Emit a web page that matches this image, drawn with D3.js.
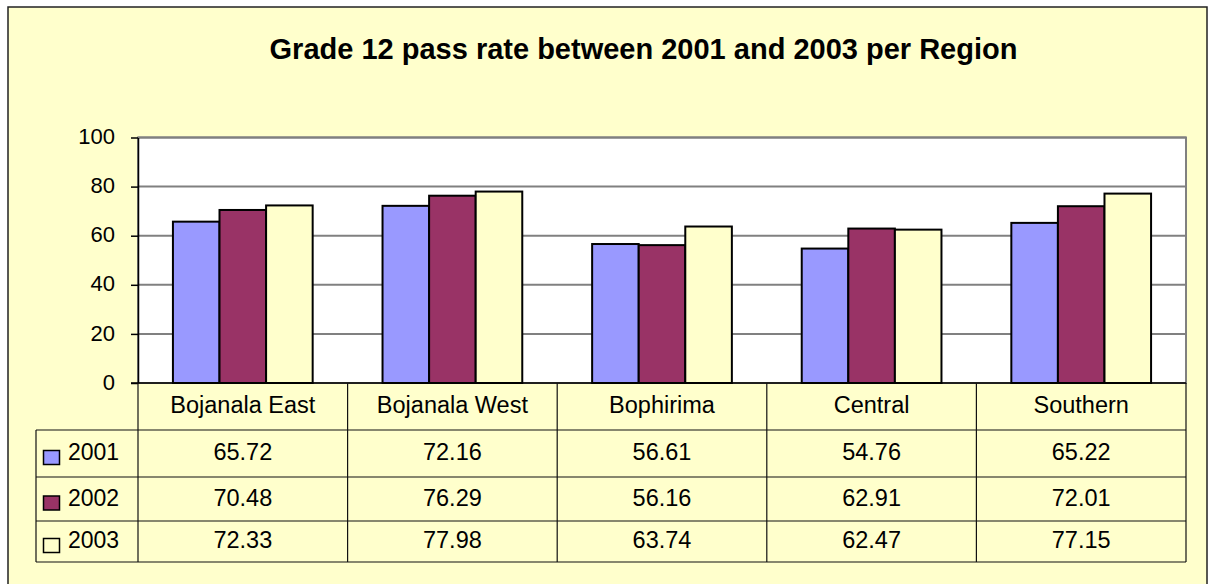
<!DOCTYPE html>
<html>
<head>
<meta charset="utf-8">
<script src="https://cdn.jsdelivr.net/npm/d3@7"></script>
<style>
  body { margin: 0; background: #fff; }
  text { font-family: Arial, "Liberation Sans", sans-serif; fill: #000; }
</style>
</head>
<body>
<svg id="canvas" width="1209" height="584"></svg>
<script>
// chart data
const regions = ["Bojanala East", "Bojanala West", "Bophirima", "Central", "Southern"];
const years = ["2001", "2002", "2003"];
const values2001 = [65.72, 72.16, 56.61, 54.76, 65.22];
const values2002 = [70.48, 76.29, 56.16, 62.91, 72.01];
const values2003 = [72.33, 77.98, 63.74, 62.47, 77.15];
const yTicks = [0, 20, 40, 60, 80, 100];
const seriesColors = ["#9999FF", "#993366", "#FFFFCC"];
const titleText = "Grade 12 pass rate between 2001 and 2003 per Region";

const series = [values2001, values2002, values2003];

const svg = d3.select("#canvas");

// plot area bounds
const plotLeft = 138, plotRight = 1186, plotTop = 137.5, plotBottom = 383;
// data table row edges
const rowEdges = [383, 430, 477, 521, 562];
const tableLeft = 36;

const x = d3.scaleBand().domain(regions).range([plotLeft, plotRight]).padding(0);
const xInner = d3.scaleBand().domain(years).range([0, x.bandwidth()])
    .paddingInner(0).paddingOuter(0.75);
const y = d3.scaleLinear().domain([0, 100]).range([plotBottom, plotTop]);
const color = d3.scaleOrdinal().domain(years).range(seriesColors);

//Outer chart frame
svg.append("rect")
    .attr("x", 8).attr("y", 7)
    .attr("width", 1199).attr("height", 600)
    .attr("fill", "#FFFFCC")
    .attr("stroke", "#222")
    .attr("stroke-width", 1.5);

//Title
svg.append("text")
    .attr("x", 643.5).attr("y", 58.5)
    .attr("text-anchor", "middle")
    .style("font-size", "29px")
    .style("font-weight", "bold")
    .text(titleText);

//Plot area background
svg.append("rect")
    .attr("x", plotLeft).attr("y", plotTop)
    .attr("width", plotRight - plotLeft).attr("height", plotBottom - plotTop)
    .attr("fill", "#fff")
    .attr("stroke", "#808080")
    .attr("stroke-width", 2);

//Gridlines
svg.append("g")
    .selectAll("line")
    .data(yTicks.filter(d => d > 0))
    .enter()
    .append("line")
    .attr("x1", plotLeft).attr("x2", plotRight)
    .attr("y1", d => y(d)).attr("y2", d => y(d))
    .attr("stroke", "#808080")
    .attr("stroke-width", 2);

//Y axis
const yAxis = svg.append("g")
    .attr("transform", `translate(${plotLeft},0)`)
    .call(d3.axisLeft(y).tickValues(yTicks).tickSize(7).tickSizeOuter(0).tickPadding(16));
yAxis.select(".domain").attr("stroke", "#000").attr("stroke-width", 1.5);
yAxis.selectAll(".tick line").attr("stroke", "#000").attr("stroke-width", 1.5);
yAxis.selectAll(".tick text")
    .attr("fill", "#000")
    .attr("dy", "0.28em")
    .style("font-size", "22px")
    .style("font-family", "Arial, 'Liberation Sans', sans-serif");

//Bars
const groups = svg.append("g")
    .selectAll("g")
    .data(years)
    .enter()
    .append("g")
    .attr("fill", d => color(d));

groups.selectAll("rect")
    .data((yr, si) => regions.map((r, i) => ({ region: r, year: yr, value: series[si][i] })))
    .enter()
    .append("rect")
    .attr("x", d => x(d.region) + xInner(d.year))
    .attr("y", d => y(d.value))
    .attr("width", xInner.bandwidth())
    .attr("height", d => y(0) - y(d.value))
    .attr("stroke", "#000")
    .attr("stroke-width", 2);

//X axis line
svg.append("line")
    .attr("x1", plotLeft - 7).attr("x2", plotRight)
    .attr("y1", plotBottom).attr("y2", plotBottom)
    .attr("stroke", "#000")
    .attr("stroke-width", 1.5);

//Data table
const table = svg.append("g").attr("stroke", "#111").attr("stroke-width", 1.2);

//horizontal rules under header and each row
table.selectAll(".row-line")
    .data(rowEdges.slice(1))
    .enter()
    .append("line")
    .attr("x1", tableLeft).attr("x2", plotRight)
    .attr("y1", d => d).attr("y2", d => d);

//vertical rules at category boundaries
const boundaries = regions.map(r => x(r)).concat([plotRight]);
table.selectAll(".col-line")
    .data(boundaries)
    .enter()
    .append("line")
    .attr("x1", d => d).attr("x2", d => d)
    .attr("y1", rowEdges[0]).attr("y2", rowEdges[rowEdges.length - 1]);

table.append("line")
    .attr("x1", tableLeft).attr("x2", tableLeft)
    .attr("y1", rowEdges[1]).attr("y2", rowEdges[rowEdges.length - 1]);

//Category headers
svg.append("g")
    .selectAll("text")
    .data(regions)
    .enter()
    .append("text")
    .attr("x", d => x(d) + x.bandwidth() / 2)
    .attr("y", (rowEdges[0] + rowEdges[1]) / 2 + 6.5)
    .attr("text-anchor", "middle")
    .style("font-size", "23.5px")
    .text(d => d);

//Value rows with legend keys
years.forEach((yr, si) => {
    const mid = (rowEdges[si + 1] + rowEdges[si + 2]) / 2;
    svg.append("rect")
        .attr("x", 43.5).attr("y", mid - 3)
        .attr("width", 16).attr("height", 14)
        .attr("fill", color(yr))
        .attr("stroke", "#000")
        .attr("stroke-width", 1.5);
    svg.append("text")
        .attr("x", 68).attr("y", mid + 6.5)
        .style("font-size", "23px")
        .text(yr);
    svg.append("g")
        .selectAll("text")
        .data(series[si])
        .enter()
        .append("text")
        .attr("x", (d, i) => x(regions[i]) + x.bandwidth() / 2)
        .attr("y", mid + 6.5)
        .attr("text-anchor", "middle")
        .style("font-size", "23.5px")
        .text(d => d.toFixed(2));
});
</script>
</body>
</html>
